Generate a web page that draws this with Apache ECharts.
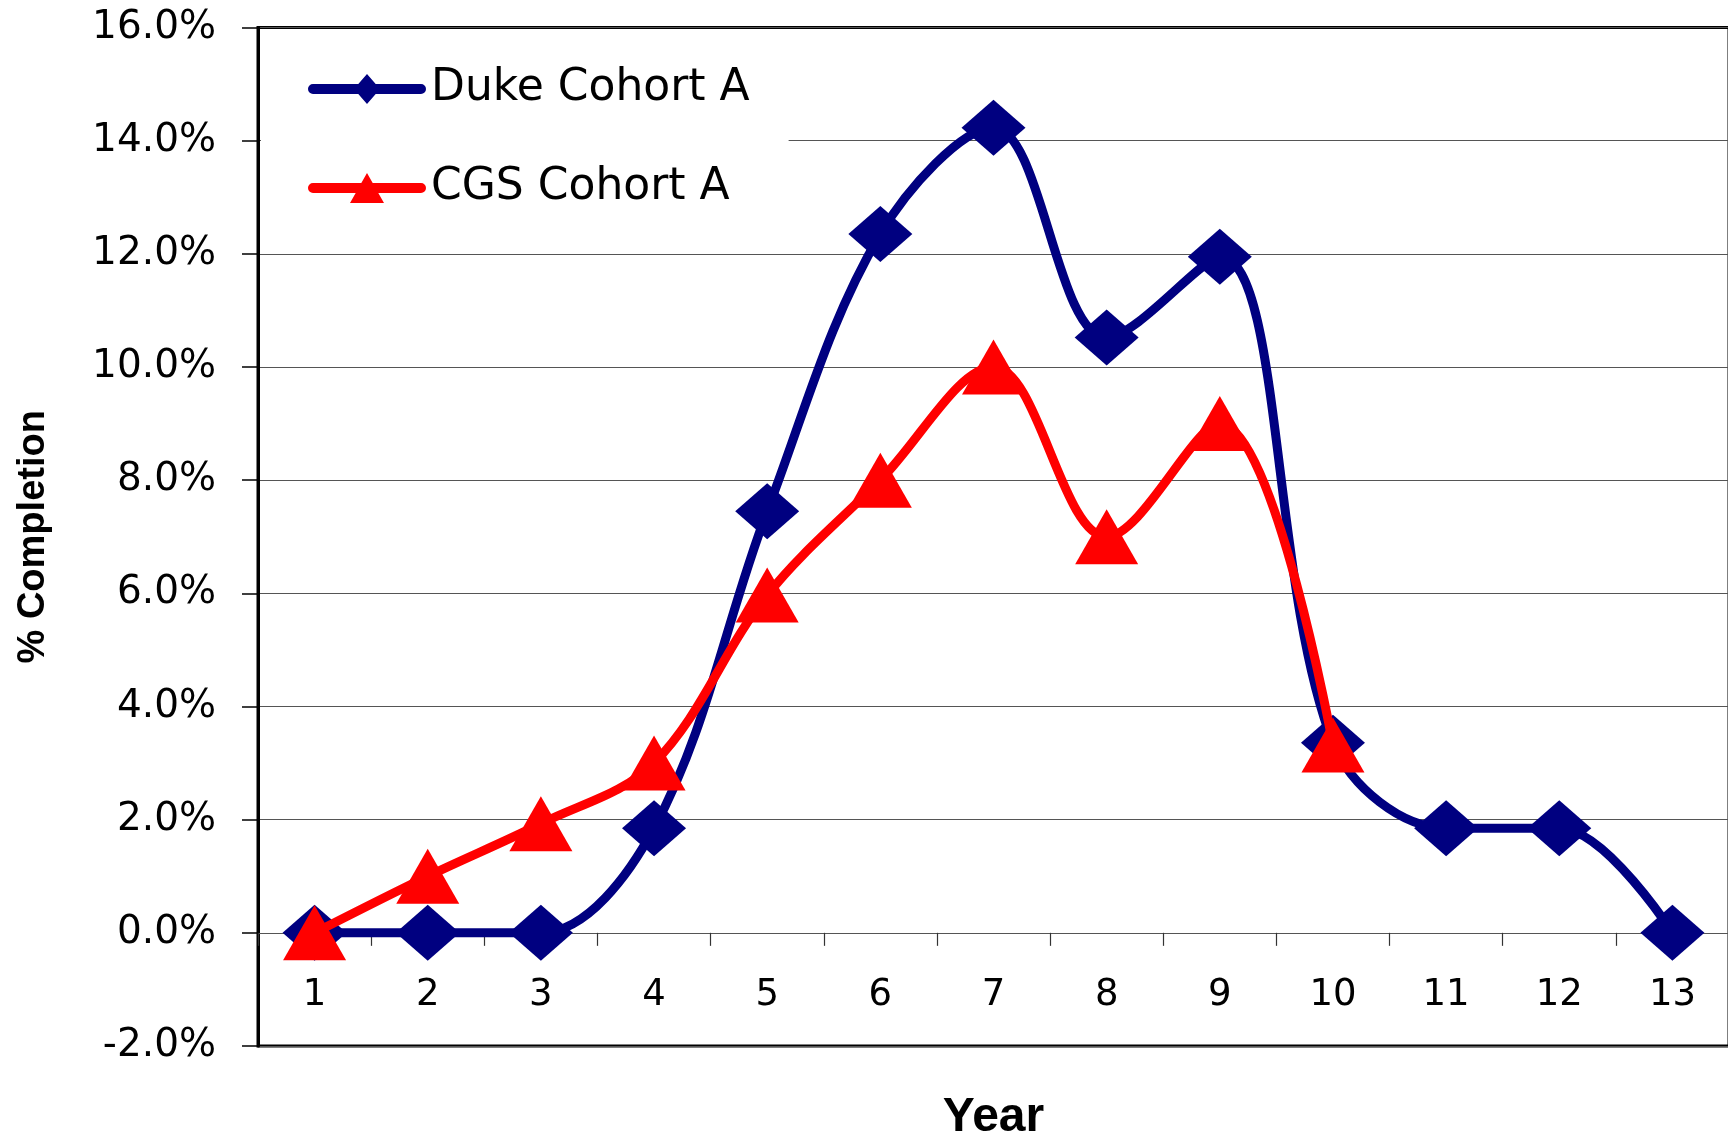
<!DOCTYPE html>
<html>
<head>
<meta charset="utf-8">
<script src="https://cdn.jsdelivr.net/npm/echarts@6/dist/echarts.min.js"></script>
<style>
html,body{margin:0;padding:0;background:#ffffff;}
#chart{width:1728px;height:1138px;}
</style>
</head>
<body>
<div id="chart"></div>
<script>
// ---- data (percent completion by year) ----
const years = ['1','2','3','4','5','6','7','8','9','10','11','12','13'];
const dukeCohortA = [0, 0, 0, 1.85, 7.45, 12.35, 14.23, 10.52, 11.95, 3.36, 1.85, 1.85, 0];
const cgsCohortA = [0, 1.0, 1.93, 3.0, 5.97, 8.0, 10.0, 7.0, 9.0, 3.32];
const seriesNames = ['Duke Cohort A', 'CGS Cohort A'];
const yMin = -2, yMax = 16, yStep = 2;

const dukeIcon = 'path://M5,10 L50.3,10 L59,0 L67.7,10 L113,10 A5,5 0 0 1 113,20 L67.7,20 L59,30 L50.3,20 L5,20 A5,5 0 0 1 5,10 Z';
const cgsIcon = 'path://M5,10 L53.3,10 L59,0 L64.7,10 L113,10 A5,5 0 0 1 113,20 L70.3,20 L76,30 L42,30 L47.7,20 L5,20 A5,5 0 0 1 5,10 Z';

const gridTop = 27.5, gridHeight = 1018.5;
// place the category axis on the 0% line
const zeroOffset = -gridHeight * (0 - yMin) / (yMax - yMin);

const chart = echarts.init(document.getElementById('chart'), null, {renderer: 'canvas'});
chart.setOption({
  backgroundColor: '#ffffff',
  animation: false,
  grid: {
    left: 258, top: gridTop, width: 1471, height: gridHeight,
    containLabel: false,
    outerBoundsMode: 'none',
    show: true, borderColor: '#000000', borderWidth: 3, backgroundColor: 'transparent'
  },
  legend: {
    left: 261, top: 42,
    orient: 'vertical',
    padding: [25, 39, 20, 47],
    itemWidth: 118, itemHeight: 30, itemGap: 55,
    backgroundColor: '#ffffff',
    textStyle: {fontFamily: 'DejaVu Sans', fontSize: 44, color: '#000000', lineHeight: 30},
    data: [
      {name: seriesNames[0], icon: dukeIcon},
      {name: seriesNames[1], icon: cgsIcon}
    ]
  },
  xAxis: {
    type: 'category',
    data: years,
    boundaryGap: true,
    position: 'bottom',
    offset: zeroOffset,
    axisLine: {onZero: false, lineStyle: {color: '#555555', width: 1.2}},
    axisTick: {show: true, length: 13, lineStyle: {color: '#333333', width: 1.2}},
    axisLabel: {fontFamily: 'DejaVu Sans', fontSize: 37, color: '#000000', margin: 44},
    splitLine: {show: false},
    name: 'Year',
    nameLocation: 'middle',
    nameGap: 161,
    nameMoveOverlap: false,
    nameTextStyle: {fontFamily: 'Liberation Sans', fontWeight: 'bold', fontSize: 48, color: '#000000'}
  },
  yAxis: {
    type: 'value',
    min: yMin, max: yMax, interval: yStep,
    axisLine: {show: true, lineStyle: {color: '#000000', width: 3}},
    axisTick: {show: true, length: 16, lineStyle: {color: '#000000', width: 1.5}},
    axisLabel: {
      fontFamily: 'DejaVu Sans', fontSize: 39, color: '#000000', margin: 42,
      formatter: v => v.toFixed(1) + '%'
    },
    splitLine: {show: true, lineStyle: {color: '#555555', width: 1.2}},
    name: '% Completion',
    nameLocation: 'middle',
    nameRotate: 90,
    nameGap: 205,
    nameMoveOverlap: false,
    nameTextStyle: {fontFamily: 'Liberation Sans', fontWeight: 'bold', fontSize: 38, color: '#000000'}
  },
  series: [
    {
      name: seriesNames[0],
      type: 'line',
      data: dukeCohortA,
      smooth: 0.35,
      symbol: 'diamond',
      symbolSize: [64, 56],
      lineStyle: {color: '#000080', width: 9},
      itemStyle: {color: '#000080'},
      z: 2
    },
    {
      name: seriesNames[1],
      type: 'line',
      data: cgsCohortA,
      smooth: 0.35,
      symbol: 'triangle',
      symbolSize: [63, 55],
      lineStyle: {color: '#ff0000', width: 9},
      itemStyle: {color: '#ff0000'},
      z: 3
    }
  ]
});
</script>
</body>
</html>
